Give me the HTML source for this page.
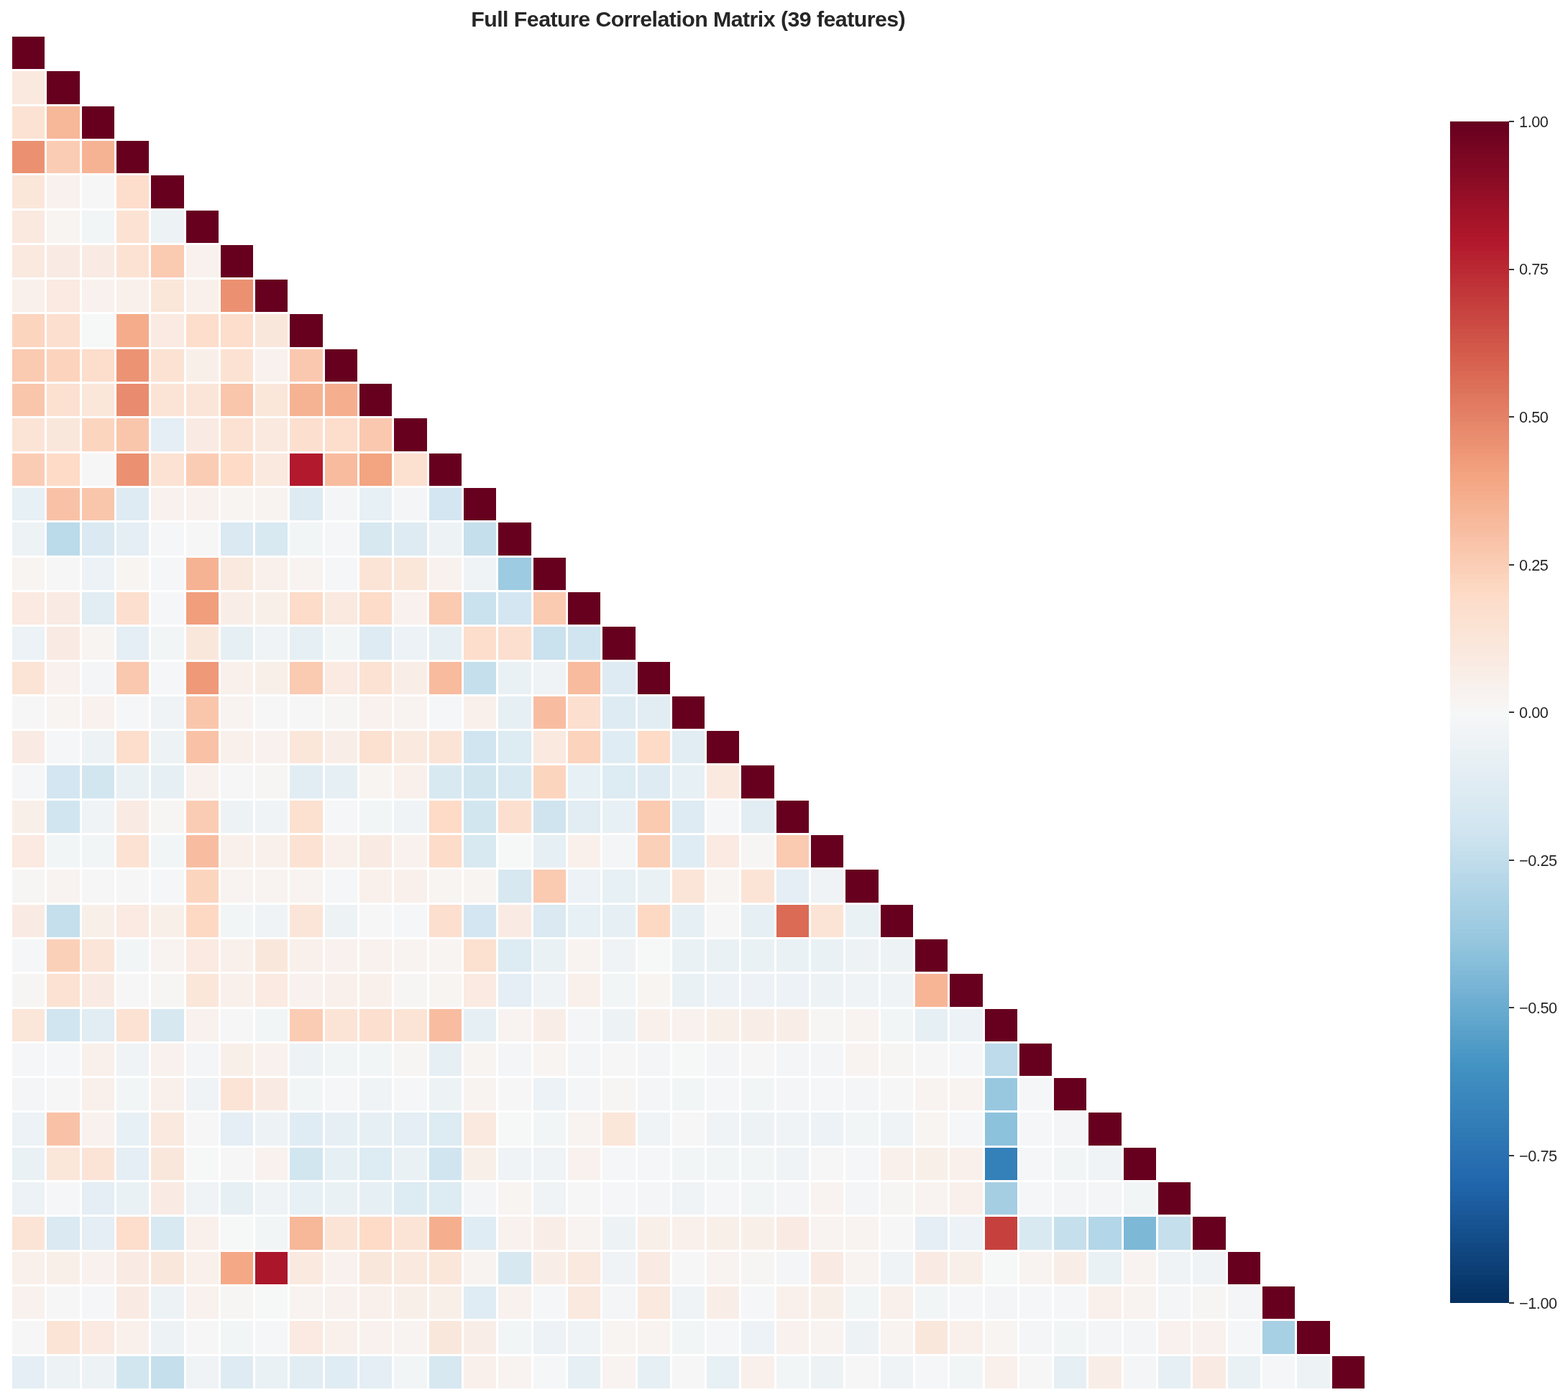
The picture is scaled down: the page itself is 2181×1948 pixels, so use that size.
<!DOCTYPE html>
<html lang="en"><head><meta charset="utf-8">
<title>Full Feature Correlation Matrix (39 features)</title>
<style>
html,body{margin:0;padding:0;background:#fff}
body{width:2181px;height:1948px;position:relative;overflow:hidden;font-family:"Liberation Sans",sans-serif;color:#262626}
.title{position:absolute;left:357.5px;top:9.2px;width:1200px;margin:0;text-align:center;font-weight:bold;font-size:30.34px;line-height:36px;white-space:nowrap;letter-spacing:-0.55px;text-indent:-0.55px}
.chart{position:absolute;left:0;top:0}
.tl{position:absolute;left:2113.1px;font-size:21.67px;line-height:24px;height:24px;white-space:nowrap;letter-spacing:-0.47px}
</style></head>
<body>
<h1 class="title">Full Feature Correlation Matrix (39 features)</h1>
<svg class="chart" width="2181" height="1948" viewBox="0 0 2181 1948" role="img" aria-label="Lower-triangle correlation heatmap with colour bar">
<g shape-rendering="crispEdges">
<g>
<rect x="17" y="51" width="45" height="45" fill="#67001f"/>
</g>
<g>
<rect x="17" y="99" width="45" height="46" fill="#fae9df"/><rect x="65" y="99" width="46" height="46" fill="#67001f"/>
</g>
<g>
<rect x="17" y="148" width="45" height="45" fill="#fce2d2"/><rect x="65" y="148" width="46" height="45" fill="#f7b799"/><rect x="114" y="148" width="45" height="45" fill="#67001f"/>
</g>
<g>
<rect x="17" y="196" width="45" height="45" fill="#eb9172"/><rect x="65" y="196" width="46" height="45" fill="#fbccb4"/><rect x="114" y="196" width="45" height="45" fill="#f6b394"/><rect x="162" y="196" width="45" height="45" fill="#67001f"/>
</g>
<g>
<rect x="17" y="244" width="45" height="46" fill="#fbe6da"/><rect x="65" y="244" width="46" height="46" fill="#f8f1ed"/><rect x="114" y="244" width="45" height="46" fill="#f7f6f6"/><rect x="162" y="244" width="45" height="46" fill="#fdddcb"/><rect x="210" y="244" width="46" height="46" fill="#67001f"/>
</g>
<g>
<rect x="17" y="293" width="45" height="45" fill="#fae9df"/><rect x="65" y="293" width="46" height="45" fill="#f8f4f2"/><rect x="114" y="293" width="45" height="45" fill="#f2f5f6"/><rect x="162" y="293" width="45" height="45" fill="#fce2d2"/><rect x="210" y="293" width="46" height="45" fill="#edf2f5"/><rect x="259" y="293" width="45" height="45" fill="#67001f"/>
</g>
<g>
<rect x="17" y="341" width="45" height="45" fill="#fae9df"/><rect x="65" y="341" width="46" height="45" fill="#f9ebe3"/><rect x="114" y="341" width="45" height="45" fill="#f9ebe3"/><rect x="162" y="341" width="45" height="45" fill="#fce2d2"/><rect x="210" y="341" width="46" height="45" fill="#facab1"/><rect x="259" y="341" width="45" height="45" fill="#f8f1ed"/><rect x="307" y="341" width="45" height="45" fill="#67001f"/>
</g>
<g>
<rect x="17" y="389" width="45" height="45" fill="#f9f0eb"/><rect x="65" y="389" width="46" height="45" fill="#faeae1"/><rect x="114" y="389" width="45" height="45" fill="#f8f1ed"/><rect x="162" y="389" width="45" height="45" fill="#f9f0eb"/><rect x="210" y="389" width="46" height="45" fill="#fbe6da"/><rect x="259" y="389" width="45" height="45" fill="#f9f0eb"/><rect x="307" y="389" width="45" height="45" fill="#eb9172"/><rect x="355" y="389" width="45" height="45" fill="#67001f"/>
</g>
<g>
<rect x="17" y="437" width="45" height="46" fill="#fcd5bf"/><rect x="65" y="437" width="46" height="46" fill="#fcdfcf"/><rect x="114" y="437" width="45" height="46" fill="#f6f7f7"/><rect x="162" y="437" width="45" height="46" fill="#f5ac8b"/><rect x="210" y="437" width="46" height="46" fill="#faeae1"/><rect x="259" y="437" width="45" height="46" fill="#fdddcb"/><rect x="307" y="437" width="45" height="46" fill="#fdddcb"/><rect x="355" y="437" width="45" height="46" fill="#fae7dc"/><rect x="403" y="437" width="46" height="46" fill="#67001f"/>
</g>
<g>
<rect x="17" y="486" width="45" height="45" fill="#facab1"/><rect x="65" y="486" width="46" height="45" fill="#fcd3bc"/><rect x="114" y="486" width="45" height="45" fill="#fdddcb"/><rect x="162" y="486" width="45" height="45" fill="#ec9374"/><rect x="210" y="486" width="46" height="45" fill="#fce2d2"/><rect x="259" y="486" width="45" height="45" fill="#f9efe9"/><rect x="307" y="486" width="45" height="45" fill="#fce2d2"/><rect x="355" y="486" width="45" height="45" fill="#f8f1ed"/><rect x="403" y="486" width="46" height="45" fill="#fac8af"/><rect x="452" y="486" width="45" height="45" fill="#67001f"/>
</g>
<g>
<rect x="17" y="534" width="45" height="45" fill="#f9c6ac"/><rect x="65" y="534" width="46" height="45" fill="#fce0d0"/><rect x="114" y="534" width="45" height="45" fill="#fbe6da"/><rect x="162" y="534" width="45" height="45" fill="#e98b6e"/><rect x="210" y="534" width="46" height="45" fill="#fbe4d6"/><rect x="259" y="534" width="45" height="45" fill="#fbe5d8"/><rect x="307" y="534" width="45" height="45" fill="#f9c6ac"/><rect x="355" y="534" width="45" height="45" fill="#fbe6da"/><rect x="403" y="534" width="46" height="45" fill="#f6b394"/><rect x="452" y="534" width="45" height="45" fill="#f6af8e"/><rect x="500" y="534" width="45" height="45" fill="#67001f"/>
</g>
<g>
<rect x="17" y="582" width="45" height="46" fill="#fbe4d6"/><rect x="65" y="582" width="46" height="46" fill="#fae7dc"/><rect x="114" y="582" width="45" height="46" fill="#fcd5bf"/><rect x="162" y="582" width="45" height="46" fill="#f9c6ac"/><rect x="210" y="582" width="46" height="46" fill="#e4eef4"/><rect x="259" y="582" width="45" height="46" fill="#f9ebe3"/><rect x="307" y="582" width="45" height="46" fill="#fce2d2"/><rect x="355" y="582" width="45" height="46" fill="#fae9df"/><rect x="403" y="582" width="46" height="46" fill="#fcdfcf"/><rect x="452" y="582" width="45" height="46" fill="#fdddcb"/><rect x="500" y="582" width="45" height="46" fill="#fac8af"/><rect x="548" y="582" width="46" height="46" fill="#67001f"/>
</g>
<g>
<rect x="17" y="631" width="45" height="45" fill="#fbccb4"/><rect x="65" y="631" width="46" height="45" fill="#fddbc7"/><rect x="114" y="631" width="45" height="45" fill="#f7f6f6"/><rect x="162" y="631" width="45" height="45" fill="#eb9172"/><rect x="210" y="631" width="46" height="45" fill="#fce2d2"/><rect x="259" y="631" width="45" height="45" fill="#fbccb4"/><rect x="307" y="631" width="45" height="45" fill="#fddbc7"/><rect x="355" y="631" width="45" height="45" fill="#fae9df"/><rect x="403" y="631" width="46" height="45" fill="#b3192c"/><rect x="452" y="631" width="45" height="45" fill="#f8bb9e"/><rect x="500" y="631" width="45" height="45" fill="#f3a481"/><rect x="548" y="631" width="46" height="45" fill="#fce0d0"/><rect x="597" y="631" width="45" height="45" fill="#67001f"/>
</g>
<g>
<rect x="17" y="679" width="45" height="45" fill="#e7f0f4"/><rect x="65" y="679" width="46" height="45" fill="#f9c2a7"/><rect x="114" y="679" width="45" height="45" fill="#f9c6ac"/><rect x="162" y="679" width="45" height="45" fill="#deebf2"/><rect x="210" y="679" width="46" height="45" fill="#f8f1ed"/><rect x="259" y="679" width="45" height="45" fill="#f8f1ed"/><rect x="307" y="679" width="45" height="45" fill="#f8f4f2"/><rect x="355" y="679" width="45" height="45" fill="#f8f3f0"/><rect x="403" y="679" width="46" height="45" fill="#deebf2"/><rect x="452" y="679" width="45" height="45" fill="#f3f5f6"/><rect x="500" y="679" width="45" height="45" fill="#e7f0f4"/><rect x="548" y="679" width="46" height="45" fill="#f3f5f6"/><rect x="597" y="679" width="45" height="45" fill="#d4e6f1"/><rect x="645" y="679" width="45" height="45" fill="#67001f"/>
</g>
<g>
<rect x="17" y="727" width="45" height="46" fill="#edf2f5"/><rect x="65" y="727" width="46" height="46" fill="#bbdaea"/><rect x="114" y="727" width="45" height="46" fill="#dae9f2"/><rect x="162" y="727" width="45" height="46" fill="#e4eef4"/><rect x="210" y="727" width="46" height="46" fill="#f5f6f7"/><rect x="259" y="727" width="45" height="46" fill="#f7f6f6"/><rect x="307" y="727" width="45" height="46" fill="#dae9f2"/><rect x="355" y="727" width="45" height="46" fill="#d8e9f1"/><rect x="403" y="727" width="46" height="46" fill="#f2f5f6"/><rect x="452" y="727" width="45" height="46" fill="#f5f6f7"/><rect x="500" y="727" width="45" height="46" fill="#d7e8f1"/><rect x="548" y="727" width="46" height="46" fill="#deebf2"/><rect x="597" y="727" width="45" height="46" fill="#edf2f5"/><rect x="645" y="727" width="45" height="46" fill="#c5dfec"/><rect x="693" y="727" width="46" height="46" fill="#67001f"/>
</g>
<g>
<rect x="17" y="776" width="45" height="45" fill="#f8f4f2"/><rect x="65" y="776" width="46" height="45" fill="#f7f6f6"/><rect x="114" y="776" width="45" height="45" fill="#ecf2f5"/><rect x="162" y="776" width="45" height="45" fill="#f8f4f2"/><rect x="210" y="776" width="46" height="45" fill="#f5f6f7"/><rect x="259" y="776" width="45" height="45" fill="#f6b394"/><rect x="307" y="776" width="45" height="45" fill="#fae9df"/><rect x="355" y="776" width="45" height="45" fill="#f9f0eb"/><rect x="403" y="776" width="46" height="45" fill="#f8f3f0"/><rect x="452" y="776" width="45" height="45" fill="#f5f6f7"/><rect x="500" y="776" width="45" height="45" fill="#fbe4d6"/><rect x="548" y="776" width="46" height="45" fill="#fbe6da"/><rect x="597" y="776" width="45" height="45" fill="#f8f1ed"/><rect x="645" y="776" width="45" height="45" fill="#eff3f5"/><rect x="693" y="776" width="46" height="45" fill="#9dcbe1"/><rect x="742" y="776" width="45" height="45" fill="#67001f"/>
</g>
<g>
<rect x="17" y="824" width="45" height="45" fill="#faeae1"/><rect x="65" y="824" width="46" height="45" fill="#f9ebe3"/><rect x="114" y="824" width="45" height="45" fill="#e1edf3"/><rect x="162" y="824" width="45" height="45" fill="#fcdfcf"/><rect x="210" y="824" width="46" height="45" fill="#f5f6f7"/><rect x="259" y="824" width="45" height="45" fill="#f19e7d"/><rect x="307" y="824" width="45" height="45" fill="#f9eee7"/><rect x="355" y="824" width="45" height="45" fill="#f9efe9"/><rect x="403" y="824" width="46" height="45" fill="#fddcc9"/><rect x="452" y="824" width="45" height="45" fill="#fae9df"/><rect x="500" y="824" width="45" height="45" fill="#fddcc9"/><rect x="548" y="824" width="46" height="45" fill="#f8f1ed"/><rect x="597" y="824" width="45" height="45" fill="#facab1"/><rect x="645" y="824" width="45" height="45" fill="#cae1ee"/><rect x="693" y="824" width="46" height="45" fill="#d4e6f1"/><rect x="742" y="824" width="45" height="45" fill="#facab1"/><rect x="790" y="824" width="45" height="45" fill="#67001f"/>
</g>
<g>
<rect x="17" y="872" width="45" height="46" fill="#ecf2f5"/><rect x="65" y="872" width="46" height="46" fill="#f9ebe3"/><rect x="114" y="872" width="45" height="46" fill="#f8f4f2"/><rect x="162" y="872" width="45" height="46" fill="#e4eef4"/><rect x="210" y="872" width="46" height="46" fill="#f2f5f6"/><rect x="259" y="872" width="45" height="46" fill="#fae7dc"/><rect x="307" y="872" width="45" height="46" fill="#e6eff4"/><rect x="355" y="872" width="45" height="46" fill="#eff3f5"/><rect x="403" y="872" width="46" height="46" fill="#e6eff4"/><rect x="452" y="872" width="45" height="46" fill="#f2f5f6"/><rect x="500" y="872" width="45" height="46" fill="#deebf2"/><rect x="548" y="872" width="46" height="46" fill="#ecf2f5"/><rect x="597" y="872" width="45" height="46" fill="#e6eff4"/><rect x="645" y="872" width="45" height="46" fill="#fdddcb"/><rect x="693" y="872" width="46" height="46" fill="#fcdfcf"/><rect x="742" y="872" width="45" height="46" fill="#cae1ee"/><rect x="790" y="872" width="45" height="46" fill="#d1e5f0"/><rect x="838" y="872" width="46" height="46" fill="#67001f"/>
</g>
<g>
<rect x="17" y="921" width="45" height="45" fill="#fbe4d6"/><rect x="65" y="921" width="46" height="45" fill="#f8f1ed"/><rect x="114" y="921" width="45" height="45" fill="#f3f5f6"/><rect x="162" y="921" width="45" height="45" fill="#fac8af"/><rect x="210" y="921" width="46" height="45" fill="#f5f6f7"/><rect x="259" y="921" width="45" height="45" fill="#ef9979"/><rect x="307" y="921" width="45" height="45" fill="#f9f0eb"/><rect x="355" y="921" width="45" height="45" fill="#f9efe9"/><rect x="403" y="921" width="46" height="45" fill="#facab1"/><rect x="452" y="921" width="45" height="45" fill="#faeae1"/><rect x="500" y="921" width="45" height="45" fill="#fce2d2"/><rect x="548" y="921" width="46" height="45" fill="#f9eee7"/><rect x="597" y="921" width="45" height="45" fill="#f8bb9e"/><rect x="645" y="921" width="45" height="45" fill="#c5dfec"/><rect x="693" y="921" width="46" height="45" fill="#eaf1f5"/><rect x="742" y="921" width="45" height="45" fill="#eff3f5"/><rect x="790" y="921" width="45" height="45" fill="#f8bb9e"/><rect x="838" y="921" width="46" height="45" fill="#deebf2"/><rect x="887" y="921" width="45" height="45" fill="#67001f"/>
</g>
<g>
<rect x="17" y="969" width="45" height="45" fill="#f7f6f6"/><rect x="65" y="969" width="46" height="45" fill="#f8f4f2"/><rect x="114" y="969" width="45" height="45" fill="#f8f1ed"/><rect x="162" y="969" width="45" height="45" fill="#f5f6f7"/><rect x="210" y="969" width="46" height="45" fill="#eff3f5"/><rect x="259" y="969" width="45" height="45" fill="#f9c6ac"/><rect x="307" y="969" width="45" height="45" fill="#f8f3f0"/><rect x="355" y="969" width="45" height="45" fill="#f7f6f6"/><rect x="403" y="969" width="46" height="45" fill="#f7f6f6"/><rect x="452" y="969" width="45" height="45" fill="#f7f5f4"/><rect x="500" y="969" width="45" height="45" fill="#f8f1ed"/><rect x="548" y="969" width="46" height="45" fill="#f8f3f0"/><rect x="597" y="969" width="45" height="45" fill="#f5f6f7"/><rect x="645" y="969" width="45" height="45" fill="#f9f0eb"/><rect x="693" y="969" width="46" height="45" fill="#e6eff4"/><rect x="742" y="969" width="45" height="45" fill="#f8bda1"/><rect x="790" y="969" width="45" height="45" fill="#fcdfcf"/><rect x="838" y="969" width="46" height="45" fill="#deebf2"/><rect x="887" y="969" width="45" height="45" fill="#e1edf3"/><rect x="935" y="969" width="45" height="45" fill="#67001f"/>
</g>
<g>
<rect x="17" y="1017" width="45" height="45" fill="#f9ebe3"/><rect x="65" y="1017" width="46" height="45" fill="#f5f6f7"/><rect x="114" y="1017" width="45" height="45" fill="#edf2f5"/><rect x="162" y="1017" width="45" height="45" fill="#fdddcb"/><rect x="210" y="1017" width="46" height="45" fill="#edf2f5"/><rect x="259" y="1017" width="45" height="45" fill="#f9c2a7"/><rect x="307" y="1017" width="45" height="45" fill="#f9f0eb"/><rect x="355" y="1017" width="45" height="45" fill="#f8f1ed"/><rect x="403" y="1017" width="46" height="45" fill="#fbe6da"/><rect x="452" y="1017" width="45" height="45" fill="#f9eee7"/><rect x="500" y="1017" width="45" height="45" fill="#fce0d0"/><rect x="548" y="1017" width="46" height="45" fill="#fae9df"/><rect x="597" y="1017" width="45" height="45" fill="#fbe4d6"/><rect x="645" y="1017" width="45" height="45" fill="#d1e5f0"/><rect x="693" y="1017" width="46" height="45" fill="#ddebf2"/><rect x="742" y="1017" width="45" height="45" fill="#fae9df"/><rect x="790" y="1017" width="45" height="45" fill="#fcd3bc"/><rect x="838" y="1017" width="46" height="45" fill="#e0ecf3"/><rect x="887" y="1017" width="45" height="45" fill="#fddbc7"/><rect x="935" y="1017" width="45" height="45" fill="#e1edf3"/><rect x="983" y="1017" width="45" height="45" fill="#67001f"/>
</g>
<g>
<rect x="17" y="1065" width="45" height="46" fill="#f5f6f7"/><rect x="65" y="1065" width="46" height="46" fill="#d4e6f1"/><rect x="114" y="1065" width="45" height="46" fill="#d2e6f0"/><rect x="162" y="1065" width="45" height="46" fill="#eaf1f5"/><rect x="210" y="1065" width="46" height="46" fill="#e6eff4"/><rect x="259" y="1065" width="45" height="46" fill="#f8f1ed"/><rect x="307" y="1065" width="45" height="46" fill="#f7f6f6"/><rect x="355" y="1065" width="45" height="46" fill="#f7f5f4"/><rect x="403" y="1065" width="46" height="46" fill="#e1edf3"/><rect x="452" y="1065" width="45" height="46" fill="#e6eff4"/><rect x="500" y="1065" width="45" height="46" fill="#f8f4f2"/><rect x="548" y="1065" width="46" height="46" fill="#f9f0eb"/><rect x="597" y="1065" width="45" height="46" fill="#d8e9f1"/><rect x="645" y="1065" width="45" height="46" fill="#d2e6f0"/><rect x="693" y="1065" width="46" height="46" fill="#d8e9f1"/><rect x="742" y="1065" width="45" height="46" fill="#fcd5bf"/><rect x="790" y="1065" width="45" height="46" fill="#e7f0f4"/><rect x="838" y="1065" width="46" height="46" fill="#ddebf2"/><rect x="887" y="1065" width="45" height="46" fill="#deebf2"/><rect x="935" y="1065" width="45" height="46" fill="#e7f0f4"/><rect x="983" y="1065" width="45" height="46" fill="#fae9df"/><rect x="1031" y="1065" width="46" height="46" fill="#67001f"/>
</g>
<g>
<rect x="17" y="1114" width="45" height="45" fill="#f9efe9"/><rect x="65" y="1114" width="46" height="45" fill="#d1e5f0"/><rect x="114" y="1114" width="45" height="45" fill="#eff3f5"/><rect x="162" y="1114" width="45" height="45" fill="#f9ebe3"/><rect x="210" y="1114" width="46" height="45" fill="#f7f5f4"/><rect x="259" y="1114" width="45" height="45" fill="#fbccb4"/><rect x="307" y="1114" width="45" height="45" fill="#edf2f5"/><rect x="355" y="1114" width="45" height="45" fill="#eff3f5"/><rect x="403" y="1114" width="46" height="45" fill="#fce0d0"/><rect x="452" y="1114" width="45" height="45" fill="#f5f6f7"/><rect x="500" y="1114" width="45" height="45" fill="#f2f5f6"/><rect x="548" y="1114" width="46" height="45" fill="#eff3f5"/><rect x="597" y="1114" width="45" height="45" fill="#fddbc7"/><rect x="645" y="1114" width="45" height="45" fill="#d2e6f0"/><rect x="693" y="1114" width="46" height="45" fill="#fcdfcf"/><rect x="742" y="1114" width="45" height="45" fill="#cfe4ef"/><rect x="790" y="1114" width="45" height="45" fill="#e1edf3"/><rect x="838" y="1114" width="46" height="45" fill="#e7f0f4"/><rect x="887" y="1114" width="45" height="45" fill="#facab1"/><rect x="935" y="1114" width="45" height="45" fill="#deebf2"/><rect x="983" y="1114" width="45" height="45" fill="#f5f6f7"/><rect x="1031" y="1114" width="46" height="45" fill="#e1edf3"/><rect x="1080" y="1114" width="45" height="45" fill="#67001f"/>
</g>
<g>
<rect x="17" y="1162" width="45" height="45" fill="#faeae1"/><rect x="65" y="1162" width="46" height="45" fill="#f2f5f6"/><rect x="114" y="1162" width="45" height="45" fill="#f2f5f6"/><rect x="162" y="1162" width="45" height="45" fill="#fce2d2"/><rect x="210" y="1162" width="46" height="45" fill="#f2f5f6"/><rect x="259" y="1162" width="45" height="45" fill="#f8bda1"/><rect x="307" y="1162" width="45" height="45" fill="#f9f0eb"/><rect x="355" y="1162" width="45" height="45" fill="#f9f0eb"/><rect x="403" y="1162" width="46" height="45" fill="#fce2d2"/><rect x="452" y="1162" width="45" height="45" fill="#f9f0eb"/><rect x="500" y="1162" width="45" height="45" fill="#f9ebe3"/><rect x="548" y="1162" width="46" height="45" fill="#f8f1ed"/><rect x="597" y="1162" width="45" height="45" fill="#fddcc9"/><rect x="645" y="1162" width="45" height="45" fill="#d8e9f1"/><rect x="693" y="1162" width="46" height="45" fill="#f6f7f7"/><rect x="742" y="1162" width="45" height="45" fill="#e6eff4"/><rect x="790" y="1162" width="45" height="45" fill="#f9f0eb"/><rect x="838" y="1162" width="46" height="45" fill="#f3f5f6"/><rect x="887" y="1162" width="45" height="45" fill="#fbd0b9"/><rect x="935" y="1162" width="45" height="45" fill="#e0ecf3"/><rect x="983" y="1162" width="45" height="45" fill="#faeae1"/><rect x="1031" y="1162" width="46" height="45" fill="#f7f5f4"/><rect x="1080" y="1162" width="45" height="45" fill="#facab1"/><rect x="1128" y="1162" width="45" height="45" fill="#67001f"/>
</g>
<g>
<rect x="17" y="1210" width="45" height="46" fill="#f7f5f4"/><rect x="65" y="1210" width="46" height="46" fill="#f8f3f0"/><rect x="114" y="1210" width="45" height="46" fill="#f7f6f6"/><rect x="162" y="1210" width="45" height="46" fill="#f7f6f6"/><rect x="210" y="1210" width="46" height="46" fill="#f5f6f7"/><rect x="259" y="1210" width="45" height="46" fill="#fcd5bf"/><rect x="307" y="1210" width="45" height="46" fill="#f8f3f0"/><rect x="355" y="1210" width="45" height="46" fill="#f8f3f0"/><rect x="403" y="1210" width="46" height="46" fill="#f8f3f0"/><rect x="452" y="1210" width="45" height="46" fill="#f5f6f7"/><rect x="500" y="1210" width="45" height="46" fill="#f9f0eb"/><rect x="548" y="1210" width="46" height="46" fill="#f9f0eb"/><rect x="597" y="1210" width="45" height="46" fill="#f8f4f2"/><rect x="645" y="1210" width="45" height="46" fill="#f8f4f2"/><rect x="693" y="1210" width="46" height="46" fill="#d7e8f1"/><rect x="742" y="1210" width="45" height="46" fill="#facab1"/><rect x="790" y="1210" width="45" height="46" fill="#ecf2f5"/><rect x="838" y="1210" width="46" height="46" fill="#e7f0f4"/><rect x="887" y="1210" width="45" height="46" fill="#eaf1f5"/><rect x="935" y="1210" width="45" height="46" fill="#fbe5d8"/><rect x="983" y="1210" width="45" height="46" fill="#f8f4f2"/><rect x="1031" y="1210" width="46" height="46" fill="#fbe4d6"/><rect x="1080" y="1210" width="45" height="46" fill="#e4eef4"/><rect x="1128" y="1210" width="45" height="46" fill="#eff3f5"/><rect x="1176" y="1210" width="46" height="46" fill="#67001f"/>
</g>
<g>
<rect x="17" y="1259" width="45" height="45" fill="#f9ebe3"/><rect x="65" y="1259" width="46" height="45" fill="#c5dfec"/><rect x="114" y="1259" width="45" height="45" fill="#f9efe9"/><rect x="162" y="1259" width="45" height="45" fill="#faeae1"/><rect x="210" y="1259" width="46" height="45" fill="#f9efe9"/><rect x="259" y="1259" width="45" height="45" fill="#fdd9c4"/><rect x="307" y="1259" width="45" height="45" fill="#f2f5f6"/><rect x="355" y="1259" width="45" height="45" fill="#eff3f5"/><rect x="403" y="1259" width="46" height="45" fill="#fbe5d8"/><rect x="452" y="1259" width="45" height="45" fill="#edf2f5"/><rect x="500" y="1259" width="45" height="45" fill="#f7f6f6"/><rect x="548" y="1259" width="46" height="45" fill="#f5f6f7"/><rect x="597" y="1259" width="45" height="45" fill="#fcdfcf"/><rect x="645" y="1259" width="45" height="45" fill="#d4e6f1"/><rect x="693" y="1259" width="46" height="45" fill="#f9ebe3"/><rect x="742" y="1259" width="45" height="45" fill="#dae9f2"/><rect x="790" y="1259" width="45" height="45" fill="#e7f0f4"/><rect x="838" y="1259" width="46" height="45" fill="#e6eff4"/><rect x="887" y="1259" width="45" height="45" fill="#fdd9c4"/><rect x="935" y="1259" width="45" height="45" fill="#e6eff4"/><rect x="983" y="1259" width="45" height="45" fill="#f7f6f6"/><rect x="1031" y="1259" width="46" height="45" fill="#e6eff4"/><rect x="1080" y="1259" width="45" height="45" fill="#db6b55"/><rect x="1128" y="1259" width="45" height="45" fill="#fbe4d6"/><rect x="1176" y="1259" width="46" height="45" fill="#eaf1f5"/><rect x="1225" y="1259" width="45" height="45" fill="#67001f"/>
</g>
<g>
<rect x="17" y="1307" width="45" height="45" fill="#f5f6f7"/><rect x="65" y="1307" width="46" height="45" fill="#fbd0b9"/><rect x="114" y="1307" width="45" height="45" fill="#fbe5d8"/><rect x="162" y="1307" width="45" height="45" fill="#f2f5f6"/><rect x="210" y="1307" width="46" height="45" fill="#f8f3f0"/><rect x="259" y="1307" width="45" height="45" fill="#faeae1"/><rect x="307" y="1307" width="45" height="45" fill="#f9f0eb"/><rect x="355" y="1307" width="45" height="45" fill="#fae7dc"/><rect x="403" y="1307" width="46" height="45" fill="#f9f0eb"/><rect x="452" y="1307" width="45" height="45" fill="#f8f1ed"/><rect x="500" y="1307" width="45" height="45" fill="#f8f1ed"/><rect x="548" y="1307" width="46" height="45" fill="#f8f3f0"/><rect x="597" y="1307" width="45" height="45" fill="#f8f4f2"/><rect x="645" y="1307" width="45" height="45" fill="#fce0d0"/><rect x="693" y="1307" width="46" height="45" fill="#ddebf2"/><rect x="742" y="1307" width="45" height="45" fill="#eaf1f5"/><rect x="790" y="1307" width="45" height="45" fill="#f8f3f0"/><rect x="838" y="1307" width="46" height="45" fill="#eff3f5"/><rect x="887" y="1307" width="45" height="45" fill="#f6f7f7"/><rect x="935" y="1307" width="45" height="45" fill="#eaf1f5"/><rect x="983" y="1307" width="45" height="45" fill="#eaf1f5"/><rect x="1031" y="1307" width="46" height="45" fill="#eaf1f5"/><rect x="1080" y="1307" width="45" height="45" fill="#eaf1f5"/><rect x="1128" y="1307" width="45" height="45" fill="#eaf1f5"/><rect x="1176" y="1307" width="46" height="45" fill="#edf2f5"/><rect x="1225" y="1307" width="45" height="45" fill="#edf2f5"/><rect x="1273" y="1307" width="45" height="45" fill="#67001f"/>
</g>
<g>
<rect x="17" y="1355" width="45" height="46" fill="#f7f5f4"/><rect x="65" y="1355" width="46" height="46" fill="#fce2d2"/><rect x="114" y="1355" width="45" height="46" fill="#f9ebe3"/><rect x="162" y="1355" width="45" height="46" fill="#f7f6f6"/><rect x="210" y="1355" width="46" height="46" fill="#f7f5f4"/><rect x="259" y="1355" width="45" height="46" fill="#fbe6da"/><rect x="307" y="1355" width="45" height="46" fill="#f9f0eb"/><rect x="355" y="1355" width="45" height="46" fill="#faeae1"/><rect x="403" y="1355" width="46" height="46" fill="#f8f1ed"/><rect x="452" y="1355" width="45" height="46" fill="#f9f0eb"/><rect x="500" y="1355" width="45" height="46" fill="#f9f0eb"/><rect x="548" y="1355" width="46" height="46" fill="#f7f5f4"/><rect x="597" y="1355" width="45" height="46" fill="#f8f4f2"/><rect x="645" y="1355" width="45" height="46" fill="#faeae1"/><rect x="693" y="1355" width="46" height="46" fill="#e4eef4"/><rect x="742" y="1355" width="45" height="46" fill="#eff3f5"/><rect x="790" y="1355" width="45" height="46" fill="#f9f0eb"/><rect x="838" y="1355" width="46" height="46" fill="#f2f5f6"/><rect x="887" y="1355" width="45" height="46" fill="#f8f4f2"/><rect x="935" y="1355" width="45" height="46" fill="#eaf1f5"/><rect x="983" y="1355" width="45" height="46" fill="#ecf2f5"/><rect x="1031" y="1355" width="46" height="46" fill="#ecf2f5"/><rect x="1080" y="1355" width="45" height="46" fill="#ecf2f5"/><rect x="1128" y="1355" width="45" height="46" fill="#edf2f5"/><rect x="1176" y="1355" width="46" height="46" fill="#eff3f5"/><rect x="1225" y="1355" width="45" height="46" fill="#eff3f5"/><rect x="1273" y="1355" width="45" height="46" fill="#f7b596"/><rect x="1321" y="1355" width="46" height="46" fill="#67001f"/>
</g>
<g>
<rect x="17" y="1404" width="45" height="45" fill="#fbe6da"/><rect x="65" y="1404" width="46" height="45" fill="#d1e5f0"/><rect x="114" y="1404" width="45" height="45" fill="#e1edf3"/><rect x="162" y="1404" width="45" height="45" fill="#fce2d2"/><rect x="210" y="1404" width="46" height="45" fill="#d7e8f1"/><rect x="259" y="1404" width="45" height="45" fill="#f8f1ed"/><rect x="307" y="1404" width="45" height="45" fill="#f7f6f6"/><rect x="355" y="1404" width="45" height="45" fill="#f2f5f6"/><rect x="403" y="1404" width="46" height="45" fill="#fbccb4"/><rect x="452" y="1404" width="45" height="45" fill="#fbe4d6"/><rect x="500" y="1404" width="45" height="45" fill="#fcdfcf"/><rect x="548" y="1404" width="46" height="45" fill="#fbe4d6"/><rect x="597" y="1404" width="45" height="45" fill="#f8bda1"/><rect x="645" y="1404" width="45" height="45" fill="#e6eff4"/><rect x="693" y="1404" width="46" height="45" fill="#f8f3f0"/><rect x="742" y="1404" width="45" height="45" fill="#f9eee7"/><rect x="790" y="1404" width="45" height="45" fill="#f3f5f6"/><rect x="838" y="1404" width="46" height="45" fill="#edf2f5"/><rect x="887" y="1404" width="45" height="45" fill="#f9f0eb"/><rect x="935" y="1404" width="45" height="45" fill="#f8f1ed"/><rect x="983" y="1404" width="45" height="45" fill="#f9efe9"/><rect x="1031" y="1404" width="46" height="45" fill="#f9eee7"/><rect x="1080" y="1404" width="45" height="45" fill="#f9eee7"/><rect x="1128" y="1404" width="45" height="45" fill="#f7f5f4"/><rect x="1176" y="1404" width="46" height="45" fill="#f8f3f0"/><rect x="1225" y="1404" width="45" height="45" fill="#f2f5f6"/><rect x="1273" y="1404" width="45" height="45" fill="#e6eff4"/><rect x="1321" y="1404" width="46" height="45" fill="#ecf2f5"/><rect x="1370" y="1404" width="45" height="45" fill="#67001f"/>
</g>
<g>
<rect x="17" y="1452" width="45" height="45" fill="#f5f6f7"/><rect x="65" y="1452" width="46" height="45" fill="#f5f6f7"/><rect x="114" y="1452" width="45" height="45" fill="#f9f0eb"/><rect x="162" y="1452" width="45" height="45" fill="#eff3f5"/><rect x="210" y="1452" width="46" height="45" fill="#f8f1ed"/><rect x="259" y="1452" width="45" height="45" fill="#f3f5f6"/><rect x="307" y="1452" width="45" height="45" fill="#f9efe9"/><rect x="355" y="1452" width="45" height="45" fill="#f8f1ed"/><rect x="403" y="1452" width="46" height="45" fill="#edf2f5"/><rect x="452" y="1452" width="45" height="45" fill="#f2f5f6"/><rect x="500" y="1452" width="45" height="45" fill="#f2f5f6"/><rect x="548" y="1452" width="46" height="45" fill="#f7f5f4"/><rect x="597" y="1452" width="45" height="45" fill="#e6eff4"/><rect x="645" y="1452" width="45" height="45" fill="#f8f4f2"/><rect x="693" y="1452" width="46" height="45" fill="#f3f5f6"/><rect x="742" y="1452" width="45" height="45" fill="#f8f4f2"/><rect x="790" y="1452" width="45" height="45" fill="#f3f5f6"/><rect x="838" y="1452" width="46" height="45" fill="#f7f6f6"/><rect x="887" y="1452" width="45" height="45" fill="#f3f5f6"/><rect x="935" y="1452" width="45" height="45" fill="#f6f7f7"/><rect x="983" y="1452" width="45" height="45" fill="#f3f5f6"/><rect x="1031" y="1452" width="46" height="45" fill="#f7f6f6"/><rect x="1080" y="1452" width="45" height="45" fill="#f3f5f6"/><rect x="1128" y="1452" width="45" height="45" fill="#f3f5f6"/><rect x="1176" y="1452" width="46" height="45" fill="#f8f3f0"/><rect x="1225" y="1452" width="45" height="45" fill="#f7f5f4"/><rect x="1273" y="1452" width="45" height="45" fill="#f7f6f6"/><rect x="1321" y="1452" width="46" height="45" fill="#f5f6f7"/><rect x="1370" y="1452" width="45" height="45" fill="#bddbea"/><rect x="1418" y="1452" width="45" height="45" fill="#67001f"/>
</g>
<g>
<rect x="17" y="1500" width="45" height="45" fill="#f3f5f6"/><rect x="65" y="1500" width="46" height="45" fill="#f7f6f6"/><rect x="114" y="1500" width="45" height="45" fill="#f9f0eb"/><rect x="162" y="1500" width="45" height="45" fill="#f2f5f6"/><rect x="210" y="1500" width="46" height="45" fill="#f9f0eb"/><rect x="259" y="1500" width="45" height="45" fill="#eff3f5"/><rect x="307" y="1500" width="45" height="45" fill="#fbe4d6"/><rect x="355" y="1500" width="45" height="45" fill="#f9ebe3"/><rect x="403" y="1500" width="46" height="45" fill="#f2f5f6"/><rect x="452" y="1500" width="45" height="45" fill="#f5f6f7"/><rect x="500" y="1500" width="45" height="45" fill="#eff3f5"/><rect x="548" y="1500" width="46" height="45" fill="#f5f6f7"/><rect x="597" y="1500" width="45" height="45" fill="#edf2f5"/><rect x="645" y="1500" width="45" height="45" fill="#f8f3f0"/><rect x="693" y="1500" width="46" height="45" fill="#f7f6f6"/><rect x="742" y="1500" width="45" height="45" fill="#ecf2f5"/><rect x="790" y="1500" width="45" height="45" fill="#f3f5f6"/><rect x="838" y="1500" width="46" height="45" fill="#f7f5f4"/><rect x="887" y="1500" width="45" height="45" fill="#f3f5f6"/><rect x="935" y="1500" width="45" height="45" fill="#f2f5f6"/><rect x="983" y="1500" width="45" height="45" fill="#f5f6f7"/><rect x="1031" y="1500" width="46" height="45" fill="#f2f5f6"/><rect x="1080" y="1500" width="45" height="45" fill="#f3f5f6"/><rect x="1128" y="1500" width="45" height="45" fill="#f5f6f7"/><rect x="1176" y="1500" width="46" height="45" fill="#f3f5f6"/><rect x="1225" y="1500" width="45" height="45" fill="#f7f6f6"/><rect x="1273" y="1500" width="45" height="45" fill="#f8f3f0"/><rect x="1321" y="1500" width="46" height="45" fill="#f8f3f0"/><rect x="1370" y="1500" width="45" height="45" fill="#98c8e0"/><rect x="1418" y="1500" width="45" height="45" fill="#f5f6f7"/><rect x="1466" y="1500" width="45" height="45" fill="#67001f"/>
</g>
<g>
<rect x="17" y="1548" width="45" height="46" fill="#ecf2f5"/><rect x="65" y="1548" width="46" height="46" fill="#f9c2a7"/><rect x="114" y="1548" width="45" height="46" fill="#f8f1ed"/><rect x="162" y="1548" width="45" height="46" fill="#e7f0f4"/><rect x="210" y="1548" width="46" height="46" fill="#fae9df"/><rect x="259" y="1548" width="45" height="46" fill="#f7f6f6"/><rect x="307" y="1548" width="45" height="46" fill="#e4eef4"/><rect x="355" y="1548" width="45" height="46" fill="#edf2f5"/><rect x="403" y="1548" width="46" height="46" fill="#e0ecf3"/><rect x="452" y="1548" width="45" height="46" fill="#e6eff4"/><rect x="500" y="1548" width="45" height="46" fill="#e6eff4"/><rect x="548" y="1548" width="46" height="46" fill="#e4eef4"/><rect x="597" y="1548" width="45" height="46" fill="#ddebf2"/><rect x="645" y="1548" width="45" height="46" fill="#fae9df"/><rect x="693" y="1548" width="46" height="46" fill="#f6f7f7"/><rect x="742" y="1548" width="45" height="46" fill="#f2f5f6"/><rect x="790" y="1548" width="45" height="46" fill="#f8f3f0"/><rect x="838" y="1548" width="46" height="46" fill="#fbe6da"/><rect x="887" y="1548" width="45" height="46" fill="#eff3f5"/><rect x="935" y="1548" width="45" height="46" fill="#f7f6f6"/><rect x="983" y="1548" width="45" height="46" fill="#eff3f5"/><rect x="1031" y="1548" width="46" height="46" fill="#edf2f5"/><rect x="1080" y="1548" width="45" height="46" fill="#eff3f5"/><rect x="1128" y="1548" width="45" height="46" fill="#ecf2f5"/><rect x="1176" y="1548" width="46" height="46" fill="#f2f5f6"/><rect x="1225" y="1548" width="45" height="46" fill="#eff3f5"/><rect x="1273" y="1548" width="45" height="46" fill="#f8f4f2"/><rect x="1321" y="1548" width="46" height="46" fill="#f5f6f7"/><rect x="1370" y="1548" width="45" height="46" fill="#8dc2dc"/><rect x="1418" y="1548" width="45" height="46" fill="#f5f6f7"/><rect x="1466" y="1548" width="45" height="46" fill="#f3f5f6"/><rect x="1514" y="1548" width="46" height="46" fill="#67001f"/>
</g>
<g>
<rect x="17" y="1597" width="45" height="45" fill="#eaf1f5"/><rect x="65" y="1597" width="46" height="45" fill="#fbe6da"/><rect x="114" y="1597" width="45" height="45" fill="#fbe4d6"/><rect x="162" y="1597" width="45" height="45" fill="#e4eef4"/><rect x="210" y="1597" width="46" height="45" fill="#fae7dc"/><rect x="259" y="1597" width="45" height="45" fill="#f6f7f7"/><rect x="307" y="1597" width="45" height="45" fill="#f7f6f6"/><rect x="355" y="1597" width="45" height="45" fill="#f8f1ed"/><rect x="403" y="1597" width="46" height="45" fill="#d2e6f0"/><rect x="452" y="1597" width="45" height="45" fill="#e6eff4"/><rect x="500" y="1597" width="45" height="45" fill="#ddebf2"/><rect x="548" y="1597" width="46" height="45" fill="#eaf1f5"/><rect x="597" y="1597" width="45" height="45" fill="#d1e5f0"/><rect x="645" y="1597" width="45" height="45" fill="#f9efe9"/><rect x="693" y="1597" width="46" height="45" fill="#eff3f5"/><rect x="742" y="1597" width="45" height="45" fill="#eff3f5"/><rect x="790" y="1597" width="45" height="45" fill="#f8f1ed"/><rect x="838" y="1597" width="46" height="45" fill="#f5f6f7"/><rect x="887" y="1597" width="45" height="45" fill="#f5f6f7"/><rect x="935" y="1597" width="45" height="45" fill="#f2f5f6"/><rect x="983" y="1597" width="45" height="45" fill="#f2f5f6"/><rect x="1031" y="1597" width="46" height="45" fill="#f2f5f6"/><rect x="1080" y="1597" width="45" height="45" fill="#eff3f5"/><rect x="1128" y="1597" width="45" height="45" fill="#f7f6f6"/><rect x="1176" y="1597" width="46" height="45" fill="#f5f6f7"/><rect x="1225" y="1597" width="45" height="45" fill="#f9f0eb"/><rect x="1273" y="1597" width="45" height="45" fill="#f9efe9"/><rect x="1321" y="1597" width="46" height="45" fill="#f9f0eb"/><rect x="1370" y="1597" width="45" height="45" fill="#3480b9"/><rect x="1418" y="1597" width="45" height="45" fill="#f5f6f7"/><rect x="1466" y="1597" width="45" height="45" fill="#f2f5f6"/><rect x="1514" y="1597" width="46" height="45" fill="#eff3f5"/><rect x="1563" y="1597" width="45" height="45" fill="#67001f"/>
</g>
<g>
<rect x="17" y="1645" width="45" height="45" fill="#ecf2f5"/><rect x="65" y="1645" width="46" height="45" fill="#f5f6f7"/><rect x="114" y="1645" width="45" height="45" fill="#e4eef4"/><rect x="162" y="1645" width="45" height="45" fill="#eaf1f5"/><rect x="210" y="1645" width="46" height="45" fill="#f9ebe3"/><rect x="259" y="1645" width="45" height="45" fill="#eff3f5"/><rect x="307" y="1645" width="45" height="45" fill="#e6eff4"/><rect x="355" y="1645" width="45" height="45" fill="#eff3f5"/><rect x="403" y="1645" width="46" height="45" fill="#e7f0f4"/><rect x="452" y="1645" width="45" height="45" fill="#eaf1f5"/><rect x="500" y="1645" width="45" height="45" fill="#e6eff4"/><rect x="548" y="1645" width="46" height="45" fill="#ddebf2"/><rect x="597" y="1645" width="45" height="45" fill="#ddebf2"/><rect x="645" y="1645" width="45" height="45" fill="#f3f5f6"/><rect x="693" y="1645" width="46" height="45" fill="#f8f4f2"/><rect x="742" y="1645" width="45" height="45" fill="#eff3f5"/><rect x="790" y="1645" width="45" height="45" fill="#f7f6f6"/><rect x="838" y="1645" width="46" height="45" fill="#f5f6f7"/><rect x="887" y="1645" width="45" height="45" fill="#f3f5f6"/><rect x="935" y="1645" width="45" height="45" fill="#eff3f5"/><rect x="983" y="1645" width="45" height="45" fill="#f5f6f7"/><rect x="1031" y="1645" width="46" height="45" fill="#f2f5f6"/><rect x="1080" y="1645" width="45" height="45" fill="#f3f5f6"/><rect x="1128" y="1645" width="45" height="45" fill="#f8f3f0"/><rect x="1176" y="1645" width="46" height="45" fill="#f3f5f6"/><rect x="1225" y="1645" width="45" height="45" fill="#f7f5f4"/><rect x="1273" y="1645" width="45" height="45" fill="#f8f3f0"/><rect x="1321" y="1645" width="46" height="45" fill="#f9f0eb"/><rect x="1370" y="1645" width="45" height="45" fill="#a5cee3"/><rect x="1418" y="1645" width="45" height="45" fill="#f5f6f7"/><rect x="1466" y="1645" width="45" height="45" fill="#f3f5f6"/><rect x="1514" y="1645" width="46" height="45" fill="#f3f5f6"/><rect x="1563" y="1645" width="45" height="45" fill="#f2f5f6"/><rect x="1611" y="1645" width="45" height="45" fill="#67001f"/>
</g>
<g>
<rect x="17" y="1693" width="45" height="46" fill="#fbe4d6"/><rect x="65" y="1693" width="46" height="46" fill="#dae9f2"/><rect x="114" y="1693" width="45" height="46" fill="#e4eef4"/><rect x="162" y="1693" width="45" height="46" fill="#fdddcb"/><rect x="210" y="1693" width="46" height="46" fill="#d8e9f1"/><rect x="259" y="1693" width="45" height="46" fill="#f9f0eb"/><rect x="307" y="1693" width="45" height="46" fill="#f6f7f7"/><rect x="355" y="1693" width="45" height="46" fill="#f2f5f6"/><rect x="403" y="1693" width="46" height="46" fill="#f7b799"/><rect x="452" y="1693" width="45" height="46" fill="#fbe4d6"/><rect x="500" y="1693" width="45" height="46" fill="#fddbc7"/><rect x="548" y="1693" width="46" height="46" fill="#fbe4d6"/><rect x="597" y="1693" width="45" height="46" fill="#f6af8e"/><rect x="645" y="1693" width="45" height="46" fill="#e0ecf3"/><rect x="693" y="1693" width="46" height="46" fill="#f8f1ed"/><rect x="742" y="1693" width="45" height="46" fill="#f9eee7"/><rect x="790" y="1693" width="45" height="46" fill="#f8f3f0"/><rect x="838" y="1693" width="46" height="46" fill="#edf2f5"/><rect x="887" y="1693" width="45" height="46" fill="#f9efe9"/><rect x="935" y="1693" width="45" height="46" fill="#f9f0eb"/><rect x="983" y="1693" width="45" height="46" fill="#f9efe9"/><rect x="1031" y="1693" width="46" height="46" fill="#f9efe9"/><rect x="1080" y="1693" width="45" height="46" fill="#f9ebe3"/><rect x="1128" y="1693" width="45" height="46" fill="#f8f3f0"/><rect x="1176" y="1693" width="46" height="46" fill="#f8f3f0"/><rect x="1225" y="1693" width="45" height="46" fill="#f7f6f6"/><rect x="1273" y="1693" width="45" height="46" fill="#e4eef4"/><rect x="1321" y="1693" width="46" height="46" fill="#ecf2f5"/><rect x="1370" y="1693" width="45" height="46" fill="#c6413e"/><rect x="1418" y="1693" width="45" height="46" fill="#d8e9f1"/><rect x="1466" y="1693" width="45" height="46" fill="#c5dfec"/><rect x="1514" y="1693" width="46" height="46" fill="#b3d6e8"/><rect x="1563" y="1693" width="45" height="46" fill="#7eb8d7"/><rect x="1611" y="1693" width="45" height="46" fill="#c5dfec"/><rect x="1659" y="1693" width="46" height="46" fill="#67001f"/>
</g>
<g>
<rect x="17" y="1742" width="45" height="45" fill="#f9f0eb"/><rect x="65" y="1742" width="46" height="45" fill="#f9efe9"/><rect x="114" y="1742" width="45" height="45" fill="#f8f1ed"/><rect x="162" y="1742" width="45" height="45" fill="#f9ebe3"/><rect x="210" y="1742" width="46" height="45" fill="#fae7dc"/><rect x="259" y="1742" width="45" height="45" fill="#f9f0eb"/><rect x="307" y="1742" width="45" height="45" fill="#f5a886"/><rect x="355" y="1742" width="45" height="45" fill="#ab162a"/><rect x="403" y="1742" width="46" height="45" fill="#fae9df"/><rect x="452" y="1742" width="45" height="45" fill="#f8f1ed"/><rect x="500" y="1742" width="45" height="45" fill="#fae7dc"/><rect x="548" y="1742" width="46" height="45" fill="#fae9df"/><rect x="597" y="1742" width="45" height="45" fill="#fbe6da"/><rect x="645" y="1742" width="45" height="45" fill="#f8f3f0"/><rect x="693" y="1742" width="46" height="45" fill="#d7e8f1"/><rect x="742" y="1742" width="45" height="45" fill="#f9eee7"/><rect x="790" y="1742" width="45" height="45" fill="#fae9df"/><rect x="838" y="1742" width="46" height="45" fill="#eff3f5"/><rect x="887" y="1742" width="45" height="45" fill="#f9ebe3"/><rect x="935" y="1742" width="45" height="45" fill="#f7f6f6"/><rect x="983" y="1742" width="45" height="45" fill="#f8f3f0"/><rect x="1031" y="1742" width="46" height="45" fill="#f7f5f4"/><rect x="1080" y="1742" width="45" height="45" fill="#f3f5f6"/><rect x="1128" y="1742" width="45" height="45" fill="#f9ebe3"/><rect x="1176" y="1742" width="46" height="45" fill="#f8f3f0"/><rect x="1225" y="1742" width="45" height="45" fill="#eff3f5"/><rect x="1273" y="1742" width="45" height="45" fill="#f9ebe3"/><rect x="1321" y="1742" width="46" height="45" fill="#f9efe9"/><rect x="1370" y="1742" width="45" height="45" fill="#f6f7f7"/><rect x="1418" y="1742" width="45" height="45" fill="#f8f3f0"/><rect x="1466" y="1742" width="45" height="45" fill="#f9eee7"/><rect x="1514" y="1742" width="46" height="45" fill="#eaf1f5"/><rect x="1563" y="1742" width="45" height="45" fill="#f8f3f0"/><rect x="1611" y="1742" width="45" height="45" fill="#eff3f5"/><rect x="1659" y="1742" width="46" height="45" fill="#eff3f5"/><rect x="1708" y="1742" width="45" height="45" fill="#67001f"/>
</g>
<g>
<rect x="17" y="1790" width="45" height="45" fill="#f8f1ed"/><rect x="65" y="1790" width="46" height="45" fill="#f7f6f6"/><rect x="114" y="1790" width="45" height="45" fill="#f5f6f7"/><rect x="162" y="1790" width="45" height="45" fill="#f9ebe3"/><rect x="210" y="1790" width="46" height="45" fill="#edf2f5"/><rect x="259" y="1790" width="45" height="45" fill="#f8f1ed"/><rect x="307" y="1790" width="45" height="45" fill="#f7f5f4"/><rect x="355" y="1790" width="45" height="45" fill="#f6f7f7"/><rect x="403" y="1790" width="46" height="45" fill="#f8f3f0"/><rect x="452" y="1790" width="45" height="45" fill="#f8f1ed"/><rect x="500" y="1790" width="45" height="45" fill="#f9f0eb"/><rect x="548" y="1790" width="46" height="45" fill="#f9efe9"/><rect x="597" y="1790" width="45" height="45" fill="#f9efe9"/><rect x="645" y="1790" width="45" height="45" fill="#e0ecf3"/><rect x="693" y="1790" width="46" height="45" fill="#f8f1ed"/><rect x="742" y="1790" width="45" height="45" fill="#f5f6f7"/><rect x="790" y="1790" width="45" height="45" fill="#fae9df"/><rect x="838" y="1790" width="46" height="45" fill="#f3f5f6"/><rect x="887" y="1790" width="45" height="45" fill="#fae9df"/><rect x="935" y="1790" width="45" height="45" fill="#eff3f5"/><rect x="983" y="1790" width="45" height="45" fill="#f9eee7"/><rect x="1031" y="1790" width="46" height="45" fill="#f5f6f7"/><rect x="1080" y="1790" width="45" height="45" fill="#f9f0eb"/><rect x="1128" y="1790" width="45" height="45" fill="#f9efe9"/><rect x="1176" y="1790" width="46" height="45" fill="#f2f5f6"/><rect x="1225" y="1790" width="45" height="45" fill="#f9f0eb"/><rect x="1273" y="1790" width="45" height="45" fill="#f2f5f6"/><rect x="1321" y="1790" width="46" height="45" fill="#f5f6f7"/><rect x="1370" y="1790" width="45" height="45" fill="#f3f5f6"/><rect x="1418" y="1790" width="45" height="45" fill="#f5f6f7"/><rect x="1466" y="1790" width="45" height="45" fill="#f5f6f7"/><rect x="1514" y="1790" width="46" height="45" fill="#f9f0eb"/><rect x="1563" y="1790" width="45" height="45" fill="#f8f3f0"/><rect x="1611" y="1790" width="45" height="45" fill="#f3f5f6"/><rect x="1659" y="1790" width="46" height="45" fill="#f7f5f4"/><rect x="1708" y="1790" width="45" height="45" fill="#f3f5f6"/><rect x="1756" y="1790" width="45" height="45" fill="#67001f"/>
</g>
<g>
<rect x="17" y="1838" width="45" height="46" fill="#f7f6f6"/><rect x="65" y="1838" width="46" height="46" fill="#fbe4d6"/><rect x="114" y="1838" width="45" height="46" fill="#faeae1"/><rect x="162" y="1838" width="45" height="46" fill="#f9f0eb"/><rect x="210" y="1838" width="46" height="46" fill="#edf2f5"/><rect x="259" y="1838" width="45" height="46" fill="#f7f6f6"/><rect x="307" y="1838" width="45" height="46" fill="#f2f5f6"/><rect x="355" y="1838" width="45" height="46" fill="#f5f6f7"/><rect x="403" y="1838" width="46" height="46" fill="#faeae1"/><rect x="452" y="1838" width="45" height="46" fill="#f9f0eb"/><rect x="500" y="1838" width="45" height="46" fill="#f8f1ed"/><rect x="548" y="1838" width="46" height="46" fill="#f8f3f0"/><rect x="597" y="1838" width="45" height="46" fill="#fae7dc"/><rect x="645" y="1838" width="45" height="46" fill="#f9eee7"/><rect x="693" y="1838" width="46" height="46" fill="#f2f5f6"/><rect x="742" y="1838" width="45" height="46" fill="#ecf2f5"/><rect x="790" y="1838" width="45" height="46" fill="#eff3f5"/><rect x="838" y="1838" width="46" height="46" fill="#f8f4f2"/><rect x="887" y="1838" width="45" height="46" fill="#f8f3f0"/><rect x="935" y="1838" width="45" height="46" fill="#f2f5f6"/><rect x="983" y="1838" width="45" height="46" fill="#f5f6f7"/><rect x="1031" y="1838" width="46" height="46" fill="#ecf2f5"/><rect x="1080" y="1838" width="45" height="46" fill="#f8f1ed"/><rect x="1128" y="1838" width="45" height="46" fill="#f8f3f0"/><rect x="1176" y="1838" width="46" height="46" fill="#edf2f5"/><rect x="1225" y="1838" width="45" height="46" fill="#f8f3f0"/><rect x="1273" y="1838" width="45" height="46" fill="#fae7dc"/><rect x="1321" y="1838" width="46" height="46" fill="#f9f0eb"/><rect x="1370" y="1838" width="45" height="46" fill="#f8f4f2"/><rect x="1418" y="1838" width="45" height="46" fill="#f3f5f6"/><rect x="1466" y="1838" width="45" height="46" fill="#f2f5f6"/><rect x="1514" y="1838" width="46" height="46" fill="#f3f5f6"/><rect x="1563" y="1838" width="45" height="46" fill="#f3f5f6"/><rect x="1611" y="1838" width="45" height="46" fill="#f8f1ed"/><rect x="1659" y="1838" width="46" height="46" fill="#f8f1ed"/><rect x="1708" y="1838" width="45" height="46" fill="#f5f6f7"/><rect x="1756" y="1838" width="45" height="46" fill="#a7d0e4"/><rect x="1804" y="1838" width="46" height="46" fill="#67001f"/>
</g>
<g>
<rect x="17" y="1887" width="45" height="45" fill="#e4eef4"/><rect x="65" y="1887" width="46" height="45" fill="#edf2f5"/><rect x="114" y="1887" width="45" height="45" fill="#edf2f5"/><rect x="162" y="1887" width="45" height="45" fill="#d2e6f0"/><rect x="210" y="1887" width="46" height="45" fill="#c5dfec"/><rect x="259" y="1887" width="45" height="45" fill="#eff3f5"/><rect x="307" y="1887" width="45" height="45" fill="#deebf2"/><rect x="355" y="1887" width="45" height="45" fill="#eaf1f5"/><rect x="403" y="1887" width="46" height="45" fill="#e1edf3"/><rect x="452" y="1887" width="45" height="45" fill="#e0ecf3"/><rect x="500" y="1887" width="45" height="45" fill="#e4eef4"/><rect x="548" y="1887" width="46" height="45" fill="#f2f5f6"/><rect x="597" y="1887" width="45" height="45" fill="#d7e8f1"/><rect x="645" y="1887" width="45" height="45" fill="#f9f0eb"/><rect x="693" y="1887" width="46" height="45" fill="#f8f3f0"/><rect x="742" y="1887" width="45" height="45" fill="#f5f6f7"/><rect x="790" y="1887" width="45" height="45" fill="#e6eff4"/><rect x="838" y="1887" width="46" height="45" fill="#f8f3f0"/><rect x="887" y="1887" width="45" height="45" fill="#e6eff4"/><rect x="935" y="1887" width="45" height="45" fill="#f7f6f6"/><rect x="983" y="1887" width="45" height="45" fill="#e7f0f4"/><rect x="1031" y="1887" width="46" height="45" fill="#f9f0eb"/><rect x="1080" y="1887" width="45" height="45" fill="#f2f5f6"/><rect x="1128" y="1887" width="45" height="45" fill="#edf2f5"/><rect x="1176" y="1887" width="46" height="45" fill="#f7f6f6"/><rect x="1225" y="1887" width="45" height="45" fill="#eff3f5"/><rect x="1273" y="1887" width="45" height="45" fill="#f5f6f7"/><rect x="1321" y="1887" width="46" height="45" fill="#f2f5f6"/><rect x="1370" y="1887" width="45" height="45" fill="#f9f0eb"/><rect x="1418" y="1887" width="45" height="45" fill="#f7f6f6"/><rect x="1466" y="1887" width="45" height="45" fill="#e6eff4"/><rect x="1514" y="1887" width="46" height="45" fill="#f9eee7"/><rect x="1563" y="1887" width="45" height="45" fill="#f3f5f6"/><rect x="1611" y="1887" width="45" height="45" fill="#e6eff4"/><rect x="1659" y="1887" width="46" height="45" fill="#f9ebe3"/><rect x="1708" y="1887" width="45" height="45" fill="#eaf1f5"/><rect x="1756" y="1887" width="45" height="45" fill="#f5f6f7"/><rect x="1804" y="1887" width="46" height="45" fill="#edf2f5"/><rect x="1853" y="1887" width="45" height="45" fill="#67001f"/>
</g>
</g>
<g>
<rect x="2017" y="169" width="82" height="1643.8" fill="#67001f"/>
<rect x="2017" y="175.42" width="82" height="1637.38" fill="#6a011f"/>
<rect x="2017" y="181.84" width="82" height="1630.96" fill="#6d0220"/>
<rect x="2017" y="188.26" width="82" height="1624.54" fill="#700320"/>
<rect x="2017" y="194.68" width="82" height="1618.12" fill="#730421"/>
<rect x="2017" y="201.11" width="82" height="1611.69" fill="#760521"/>
<rect x="2017" y="207.53" width="82" height="1605.27" fill="#790622"/>
<rect x="2017" y="213.95" width="82" height="1598.85" fill="#7c0722"/>
<rect x="2017" y="220.37" width="82" height="1592.43" fill="#7f0823"/>
<rect x="2017" y="226.79" width="82" height="1586.01" fill="#810823"/>
<rect x="2017" y="233.21" width="82" height="1579.59" fill="#840924"/>
<rect x="2017" y="239.63" width="82" height="1573.17" fill="#870a24"/>
<rect x="2017" y="246.05" width="82" height="1566.75" fill="#8a0b25"/>
<rect x="2017" y="252.47" width="82" height="1560.33" fill="#8d0c25"/>
<rect x="2017" y="258.9" width="82" height="1553.9" fill="#900d26"/>
<rect x="2017" y="265.32" width="82" height="1547.48" fill="#930e26"/>
<rect x="2017" y="271.74" width="82" height="1541.06" fill="#960f27"/>
<rect x="2017" y="278.16" width="82" height="1534.64" fill="#991027"/>
<rect x="2017" y="284.58" width="82" height="1528.22" fill="#9c1127"/>
<rect x="2017" y="291" width="82" height="1521.8" fill="#9f1228"/>
<rect x="2017" y="297.42" width="82" height="1515.38" fill="#a21328"/>
<rect x="2017" y="303.84" width="82" height="1508.96" fill="#a51429"/>
<rect x="2017" y="310.26" width="82" height="1502.54" fill="#a81529"/>
<rect x="2017" y="316.69" width="82" height="1496.11" fill="#ab162a"/>
<rect x="2017" y="323.11" width="82" height="1489.69" fill="#ae172a"/>
<rect x="2017" y="329.53" width="82" height="1483.27" fill="#b1182b"/>
<rect x="2017" y="335.95" width="82" height="1476.85" fill="#b3192c"/>
<rect x="2017" y="342.37" width="82" height="1470.43" fill="#b41c2d"/>
<rect x="2017" y="348.79" width="82" height="1464.01" fill="#b61f2e"/>
<rect x="2017" y="355.21" width="82" height="1457.59" fill="#b72230"/>
<rect x="2017" y="361.63" width="82" height="1451.17" fill="#b82531"/>
<rect x="2017" y="368.05" width="82" height="1444.75" fill="#ba2832"/>
<rect x="2017" y="374.48" width="82" height="1438.32" fill="#bb2a34"/>
<rect x="2017" y="380.9" width="82" height="1431.9" fill="#bd2d35"/>
<rect x="2017" y="387.32" width="82" height="1425.48" fill="#be3036"/>
<rect x="2017" y="393.74" width="82" height="1419.06" fill="#bf3338"/>
<rect x="2017" y="400.16" width="82" height="1412.64" fill="#c13639"/>
<rect x="2017" y="406.58" width="82" height="1406.22" fill="#c2383a"/>
<rect x="2017" y="413" width="82" height="1399.8" fill="#c43b3c"/>
<rect x="2017" y="419.42" width="82" height="1393.38" fill="#c53e3d"/>
<rect x="2017" y="425.84" width="82" height="1386.96" fill="#c6413e"/>
<rect x="2017" y="432.26" width="82" height="1380.54" fill="#c84440"/>
<rect x="2017" y="438.69" width="82" height="1374.11" fill="#c94741"/>
<rect x="2017" y="445.11" width="82" height="1367.69" fill="#cb4942"/>
<rect x="2017" y="451.53" width="82" height="1361.27" fill="#cc4c44"/>
<rect x="2017" y="457.95" width="82" height="1354.85" fill="#ce4f45"/>
<rect x="2017" y="464.37" width="82" height="1348.43" fill="#cf5246"/>
<rect x="2017" y="470.79" width="82" height="1342.01" fill="#d05548"/>
<rect x="2017" y="477.21" width="82" height="1335.59" fill="#d25849"/>
<rect x="2017" y="483.63" width="82" height="1329.17" fill="#d35a4a"/>
<rect x="2017" y="490.05" width="82" height="1322.75" fill="#d55d4c"/>
<rect x="2017" y="496.48" width="82" height="1316.32" fill="#d6604d"/>
<rect x="2017" y="502.9" width="82" height="1309.9" fill="#d7634f"/>
<rect x="2017" y="509.32" width="82" height="1303.48" fill="#d86551"/>
<rect x="2017" y="515.74" width="82" height="1297.06" fill="#da6853"/>
<rect x="2017" y="522.16" width="82" height="1290.64" fill="#db6b55"/>
<rect x="2017" y="528.58" width="82" height="1284.22" fill="#dc6e57"/>
<rect x="2017" y="535" width="82" height="1277.8" fill="#dd7059"/>
<rect x="2017" y="541.42" width="82" height="1271.38" fill="#de735c"/>
<rect x="2017" y="547.84" width="82" height="1264.96" fill="#df765e"/>
<rect x="2017" y="554.27" width="82" height="1258.53" fill="#e17860"/>
<rect x="2017" y="560.69" width="82" height="1252.11" fill="#e27b62"/>
<rect x="2017" y="567.11" width="82" height="1245.69" fill="#e37e64"/>
<rect x="2017" y="573.53" width="82" height="1239.27" fill="#e48066"/>
<rect x="2017" y="579.95" width="82" height="1232.85" fill="#e58368"/>
<rect x="2017" y="586.37" width="82" height="1226.43" fill="#e6866a"/>
<rect x="2017" y="592.79" width="82" height="1220.01" fill="#e8896c"/>
<rect x="2017" y="599.21" width="82" height="1213.59" fill="#e98b6e"/>
<rect x="2017" y="605.63" width="82" height="1207.17" fill="#ea8e70"/>
<rect x="2017" y="612.06" width="82" height="1200.74" fill="#eb9172"/>
<rect x="2017" y="618.48" width="82" height="1194.32" fill="#ec9374"/>
<rect x="2017" y="624.9" width="82" height="1187.9" fill="#ee9677"/>
<rect x="2017" y="631.32" width="82" height="1181.48" fill="#ef9979"/>
<rect x="2017" y="637.74" width="82" height="1175.06" fill="#f09c7b"/>
<rect x="2017" y="644.16" width="82" height="1168.64" fill="#f19e7d"/>
<rect x="2017" y="650.58" width="82" height="1162.22" fill="#f2a17f"/>
<rect x="2017" y="657" width="82" height="1155.8" fill="#f3a481"/>
<rect x="2017" y="663.42" width="82" height="1149.38" fill="#f4a683"/>
<rect x="2017" y="669.85" width="82" height="1142.95" fill="#f5a886"/>
<rect x="2017" y="676.27" width="82" height="1136.53" fill="#f5aa89"/>
<rect x="2017" y="682.69" width="82" height="1130.11" fill="#f5ac8b"/>
<rect x="2017" y="689.11" width="82" height="1123.69" fill="#f6af8e"/>
<rect x="2017" y="695.53" width="82" height="1117.27" fill="#f6b191"/>
<rect x="2017" y="701.95" width="82" height="1110.85" fill="#f6b394"/>
<rect x="2017" y="708.37" width="82" height="1104.43" fill="#f7b596"/>
<rect x="2017" y="714.79" width="82" height="1098.01" fill="#f7b799"/>
<rect x="2017" y="721.21" width="82" height="1091.59" fill="#f7b99c"/>
<rect x="2017" y="727.64" width="82" height="1085.16" fill="#f8bb9e"/>
<rect x="2017" y="734.06" width="82" height="1078.74" fill="#f8bda1"/>
<rect x="2017" y="740.48" width="82" height="1072.32" fill="#f8bfa4"/>
<rect x="2017" y="746.9" width="82" height="1065.9" fill="#f9c2a7"/>
<rect x="2017" y="753.32" width="82" height="1059.48" fill="#f9c4a9"/>
<rect x="2017" y="759.74" width="82" height="1053.06" fill="#f9c6ac"/>
<rect x="2017" y="766.16" width="82" height="1046.64" fill="#fac8af"/>
<rect x="2017" y="772.58" width="82" height="1040.22" fill="#facab1"/>
<rect x="2017" y="779" width="82" height="1033.8" fill="#fbccb4"/>
<rect x="2017" y="785.42" width="82" height="1027.38" fill="#fbceb7"/>
<rect x="2017" y="791.85" width="82" height="1020.95" fill="#fbd0b9"/>
<rect x="2017" y="798.27" width="82" height="1014.53" fill="#fcd3bc"/>
<rect x="2017" y="804.69" width="82" height="1008.11" fill="#fcd5bf"/>
<rect x="2017" y="811.11" width="82" height="1001.69" fill="#fcd7c2"/>
<rect x="2017" y="817.53" width="82" height="995.27" fill="#fdd9c4"/>
<rect x="2017" y="823.95" width="82" height="988.85" fill="#fddbc7"/>
<rect x="2017" y="830.37" width="82" height="982.43" fill="#fddcc9"/>
<rect x="2017" y="836.79" width="82" height="976.01" fill="#fdddcb"/>
<rect x="2017" y="843.21" width="82" height="969.59" fill="#fcdecd"/>
<rect x="2017" y="849.64" width="82" height="963.16" fill="#fcdfcf"/>
<rect x="2017" y="856.06" width="82" height="956.74" fill="#fce0d0"/>
<rect x="2017" y="862.48" width="82" height="950.32" fill="#fce2d2"/>
<rect x="2017" y="868.9" width="82" height="943.9" fill="#fbe3d4"/>
<rect x="2017" y="875.32" width="82" height="937.48" fill="#fbe4d6"/>
<rect x="2017" y="881.74" width="82" height="931.06" fill="#fbe5d8"/>
<rect x="2017" y="888.16" width="82" height="924.64" fill="#fbe6da"/>
<rect x="2017" y="894.58" width="82" height="918.22" fill="#fae7dc"/>
<rect x="2017" y="901" width="82" height="911.8" fill="#fae8de"/>
<rect x="2017" y="907.43" width="82" height="905.37" fill="#fae9df"/>
<rect x="2017" y="913.85" width="82" height="898.95" fill="#faeae1"/>
<rect x="2017" y="920.27" width="82" height="892.53" fill="#f9ebe3"/>
<rect x="2017" y="926.69" width="82" height="886.11" fill="#f9ede5"/>
<rect x="2017" y="933.11" width="82" height="879.69" fill="#f9eee7"/>
<rect x="2017" y="939.53" width="82" height="873.27" fill="#f9efe9"/>
<rect x="2017" y="945.95" width="82" height="866.85" fill="#f9f0eb"/>
<rect x="2017" y="952.37" width="82" height="860.43" fill="#f8f1ed"/>
<rect x="2017" y="958.79" width="82" height="854.01" fill="#f8f2ef"/>
<rect x="2017" y="965.22" width="82" height="847.58" fill="#f8f3f0"/>
<rect x="2017" y="971.64" width="82" height="841.16" fill="#f8f4f2"/>
<rect x="2017" y="978.06" width="82" height="834.74" fill="#f7f5f4"/>
<rect x="2017" y="984.48" width="82" height="828.32" fill="#f7f6f6"/>
<rect x="2017" y="990.9" width="82" height="821.9" fill="#f6f7f7"/>
<rect x="2017" y="997.32" width="82" height="815.48" fill="#f5f6f7"/>
<rect x="2017" y="1003.74" width="82" height="809.06" fill="#f3f5f6"/>
<rect x="2017" y="1010.16" width="82" height="802.64" fill="#f2f5f6"/>
<rect x="2017" y="1016.58" width="82" height="796.22" fill="#f0f4f6"/>
<rect x="2017" y="1023.01" width="82" height="789.79" fill="#eff3f5"/>
<rect x="2017" y="1029.43" width="82" height="783.37" fill="#edf2f5"/>
<rect x="2017" y="1035.85" width="82" height="776.95" fill="#ecf2f5"/>
<rect x="2017" y="1042.27" width="82" height="770.53" fill="#eaf1f5"/>
<rect x="2017" y="1048.69" width="82" height="764.11" fill="#e9f0f4"/>
<rect x="2017" y="1055.11" width="82" height="757.69" fill="#e7f0f4"/>
<rect x="2017" y="1061.53" width="82" height="751.27" fill="#e6eff4"/>
<rect x="2017" y="1067.95" width="82" height="744.85" fill="#e4eef4"/>
<rect x="2017" y="1074.37" width="82" height="738.43" fill="#e3edf3"/>
<rect x="2017" y="1080.8" width="82" height="732" fill="#e1edf3"/>
<rect x="2017" y="1087.22" width="82" height="725.58" fill="#e0ecf3"/>
<rect x="2017" y="1093.64" width="82" height="719.16" fill="#deebf2"/>
<rect x="2017" y="1100.06" width="82" height="712.74" fill="#ddebf2"/>
<rect x="2017" y="1106.48" width="82" height="706.32" fill="#dbeaf2"/>
<rect x="2017" y="1112.9" width="82" height="699.9" fill="#dae9f2"/>
<rect x="2017" y="1119.32" width="82" height="693.48" fill="#d8e9f1"/>
<rect x="2017" y="1125.74" width="82" height="687.06" fill="#d7e8f1"/>
<rect x="2017" y="1132.16" width="82" height="680.64" fill="#d5e7f1"/>
<rect x="2017" y="1138.59" width="82" height="674.21" fill="#d4e6f1"/>
<rect x="2017" y="1145.01" width="82" height="667.79" fill="#d2e6f0"/>
<rect x="2017" y="1151.43" width="82" height="661.37" fill="#d1e5f0"/>
<rect x="2017" y="1157.85" width="82" height="654.95" fill="#cfe4ef"/>
<rect x="2017" y="1164.27" width="82" height="648.53" fill="#cce2ef"/>
<rect x="2017" y="1170.69" width="82" height="642.11" fill="#cae1ee"/>
<rect x="2017" y="1177.11" width="82" height="635.69" fill="#c7e0ed"/>
<rect x="2017" y="1183.53" width="82" height="629.27" fill="#c5dfec"/>
<rect x="2017" y="1189.95" width="82" height="622.85" fill="#c2ddec"/>
<rect x="2017" y="1196.38" width="82" height="616.42" fill="#c0dceb"/>
<rect x="2017" y="1202.8" width="82" height="610" fill="#bddbea"/>
<rect x="2017" y="1209.22" width="82" height="603.58" fill="#bbdaea"/>
<rect x="2017" y="1215.64" width="82" height="597.16" fill="#b8d8e9"/>
<rect x="2017" y="1222.06" width="82" height="590.74" fill="#b6d7e8"/>
<rect x="2017" y="1228.48" width="82" height="584.32" fill="#b3d6e8"/>
<rect x="2017" y="1234.9" width="82" height="577.9" fill="#b1d5e7"/>
<rect x="2017" y="1241.32" width="82" height="571.48" fill="#aed3e6"/>
<rect x="2017" y="1247.74" width="82" height="565.06" fill="#acd2e5"/>
<rect x="2017" y="1254.16" width="82" height="558.64" fill="#a9d1e5"/>
<rect x="2017" y="1260.59" width="82" height="552.21" fill="#a7d0e4"/>
<rect x="2017" y="1267.01" width="82" height="545.79" fill="#a5cee3"/>
<rect x="2017" y="1273.43" width="82" height="539.37" fill="#a2cde3"/>
<rect x="2017" y="1279.85" width="82" height="532.95" fill="#a0cce2"/>
<rect x="2017" y="1286.27" width="82" height="526.53" fill="#9dcbe1"/>
<rect x="2017" y="1292.69" width="82" height="520.11" fill="#9bc9e0"/>
<rect x="2017" y="1299.11" width="82" height="513.69" fill="#98c8e0"/>
<rect x="2017" y="1305.53" width="82" height="507.27" fill="#96c7df"/>
<rect x="2017" y="1311.95" width="82" height="500.85" fill="#93c6de"/>
<rect x="2017" y="1318.38" width="82" height="494.42" fill="#90c4dd"/>
<rect x="2017" y="1324.8" width="82" height="488" fill="#8dc2dc"/>
<rect x="2017" y="1331.22" width="82" height="481.58" fill="#8ac0db"/>
<rect x="2017" y="1337.64" width="82" height="475.16" fill="#87beda"/>
<rect x="2017" y="1344.06" width="82" height="468.74" fill="#84bcd9"/>
<rect x="2017" y="1350.48" width="82" height="462.32" fill="#81bad8"/>
<rect x="2017" y="1356.9" width="82" height="455.9" fill="#7eb8d7"/>
<rect x="2017" y="1363.32" width="82" height="449.48" fill="#7bb6d6"/>
<rect x="2017" y="1369.74" width="82" height="443.06" fill="#78b4d5"/>
<rect x="2017" y="1376.17" width="82" height="436.63" fill="#75b2d4"/>
<rect x="2017" y="1382.59" width="82" height="430.21" fill="#71b0d3"/>
<rect x="2017" y="1389.01" width="82" height="423.79" fill="#6eaed2"/>
<rect x="2017" y="1395.43" width="82" height="417.37" fill="#6bacd1"/>
<rect x="2017" y="1401.85" width="82" height="410.95" fill="#68abd0"/>
<rect x="2017" y="1408.27" width="82" height="404.53" fill="#65a9cf"/>
<rect x="2017" y="1414.69" width="82" height="398.11" fill="#62a7ce"/>
<rect x="2017" y="1421.11" width="82" height="391.69" fill="#5fa5cd"/>
<rect x="2017" y="1427.53" width="82" height="385.27" fill="#5ca3cb"/>
<rect x="2017" y="1433.96" width="82" height="378.84" fill="#59a1ca"/>
<rect x="2017" y="1440.38" width="82" height="372.42" fill="#569fc9"/>
<rect x="2017" y="1446.8" width="82" height="366" fill="#529dc8"/>
<rect x="2017" y="1453.22" width="82" height="359.58" fill="#4f9bc7"/>
<rect x="2017" y="1459.64" width="82" height="353.16" fill="#4c99c6"/>
<rect x="2017" y="1466.06" width="82" height="346.74" fill="#4997c5"/>
<rect x="2017" y="1472.48" width="82" height="340.32" fill="#4695c4"/>
<rect x="2017" y="1478.9" width="82" height="333.9" fill="#4393c3"/>
<rect x="2017" y="1485.32" width="82" height="327.48" fill="#4291c2"/>
<rect x="2017" y="1491.75" width="82" height="321.05" fill="#408fc1"/>
<rect x="2017" y="1498.17" width="82" height="314.63" fill="#3f8ec0"/>
<rect x="2017" y="1504.59" width="82" height="308.21" fill="#3e8cbf"/>
<rect x="2017" y="1511.01" width="82" height="301.79" fill="#3c8abe"/>
<rect x="2017" y="1517.43" width="82" height="295.37" fill="#3b88be"/>
<rect x="2017" y="1523.85" width="82" height="288.95" fill="#3a87bd"/>
<rect x="2017" y="1530.27" width="82" height="282.53" fill="#3885bc"/>
<rect x="2017" y="1536.69" width="82" height="276.11" fill="#3783bb"/>
<rect x="2017" y="1543.11" width="82" height="269.69" fill="#3681ba"/>
<rect x="2017" y="1549.54" width="82" height="263.26" fill="#3480b9"/>
<rect x="2017" y="1555.96" width="82" height="256.84" fill="#337eb8"/>
<rect x="2017" y="1562.38" width="82" height="250.42" fill="#327cb7"/>
<rect x="2017" y="1568.8" width="82" height="244" fill="#307ab6"/>
<rect x="2017" y="1575.22" width="82" height="237.58" fill="#2f79b5"/>
<rect x="2017" y="1581.64" width="82" height="231.16" fill="#2e77b5"/>
<rect x="2017" y="1588.06" width="82" height="224.74" fill="#2c75b4"/>
<rect x="2017" y="1594.48" width="82" height="218.32" fill="#2b73b3"/>
<rect x="2017" y="1600.9" width="82" height="211.9" fill="#2a71b2"/>
<rect x="2017" y="1607.33" width="82" height="205.47" fill="#2870b1"/>
<rect x="2017" y="1613.75" width="82" height="199.05" fill="#276eb0"/>
<rect x="2017" y="1620.17" width="82" height="192.63" fill="#266caf"/>
<rect x="2017" y="1626.59" width="82" height="186.21" fill="#246aae"/>
<rect x="2017" y="1633.01" width="82" height="179.79" fill="#2369ad"/>
<rect x="2017" y="1639.43" width="82" height="173.37" fill="#2267ac"/>
<rect x="2017" y="1645.85" width="82" height="166.95" fill="#2065ab"/>
<rect x="2017" y="1652.27" width="82" height="160.53" fill="#1f63a8"/>
<rect x="2017" y="1658.69" width="82" height="154.11" fill="#1e61a5"/>
<rect x="2017" y="1665.11" width="82" height="147.69" fill="#1d5fa2"/>
<rect x="2017" y="1671.54" width="82" height="141.26" fill="#1c5c9f"/>
<rect x="2017" y="1677.96" width="82" height="134.84" fill="#1b5a9c"/>
<rect x="2017" y="1684.38" width="82" height="128.42" fill="#1a5899"/>
<rect x="2017" y="1690.8" width="82" height="122" fill="#195696"/>
<rect x="2017" y="1697.22" width="82" height="115.58" fill="#185493"/>
<rect x="2017" y="1703.64" width="82" height="109.16" fill="#175290"/>
<rect x="2017" y="1710.06" width="82" height="102.74" fill="#15508d"/>
<rect x="2017" y="1716.48" width="82" height="96.32" fill="#144e8a"/>
<rect x="2017" y="1722.9" width="82" height="89.9" fill="#134c87"/>
<rect x="2017" y="1729.33" width="82" height="83.47" fill="#124984"/>
<rect x="2017" y="1735.75" width="82" height="77.05" fill="#114781"/>
<rect x="2017" y="1742.17" width="82" height="70.63" fill="#10457e"/>
<rect x="2017" y="1748.59" width="82" height="64.21" fill="#0f437b"/>
<rect x="2017" y="1755.01" width="82" height="57.79" fill="#0e4179"/>
<rect x="2017" y="1761.43" width="82" height="51.37" fill="#0d3f76"/>
<rect x="2017" y="1767.85" width="82" height="44.95" fill="#0c3d73"/>
<rect x="2017" y="1774.27" width="82" height="38.53" fill="#0a3b70"/>
<rect x="2017" y="1780.69" width="82" height="32.11" fill="#09386d"/>
<rect x="2017" y="1787.12" width="82" height="25.68" fill="#08366a"/>
<rect x="2017" y="1793.54" width="82" height="19.26" fill="#073467"/>
<rect x="2017" y="1799.96" width="82" height="12.84" fill="#063264"/>
<rect x="2017" y="1806.38" width="82" height="6.42" fill="#053061"/>
</g>
<g fill="#363636" shape-rendering="crispEdges">
<rect x="2099" y="168" width="7" height="2"/>
<rect x="2099" y="374" width="7" height="2"/>
<rect x="2099" y="579" width="7" height="2"/>
<rect x="2099" y="785" width="7" height="2"/>
<rect x="2099" y="990" width="7" height="2"/>
<rect x="2099" y="1196" width="7" height="2"/>
<rect x="2099" y="1401" width="7" height="2"/>
<rect x="2099" y="1607" width="7" height="2"/>
<rect x="2099" y="1812" width="7" height="2"/>
</g>
</svg>
<div class="tl" style="top:158px">1.00</div>
<div class="tl" style="top:363px">0.75</div>
<div class="tl" style="top:569px">0.50</div>
<div class="tl" style="top:775px">0.25</div>
<div class="tl" style="top:980px">0.00</div>
<div class="tl" style="top:1186px">−0.25</div>
<div class="tl" style="top:1391px">−0.50</div>
<div class="tl" style="top:1597px">−0.75</div>
<div class="tl" style="top:1802px">−1.00</div>
</body></html>
